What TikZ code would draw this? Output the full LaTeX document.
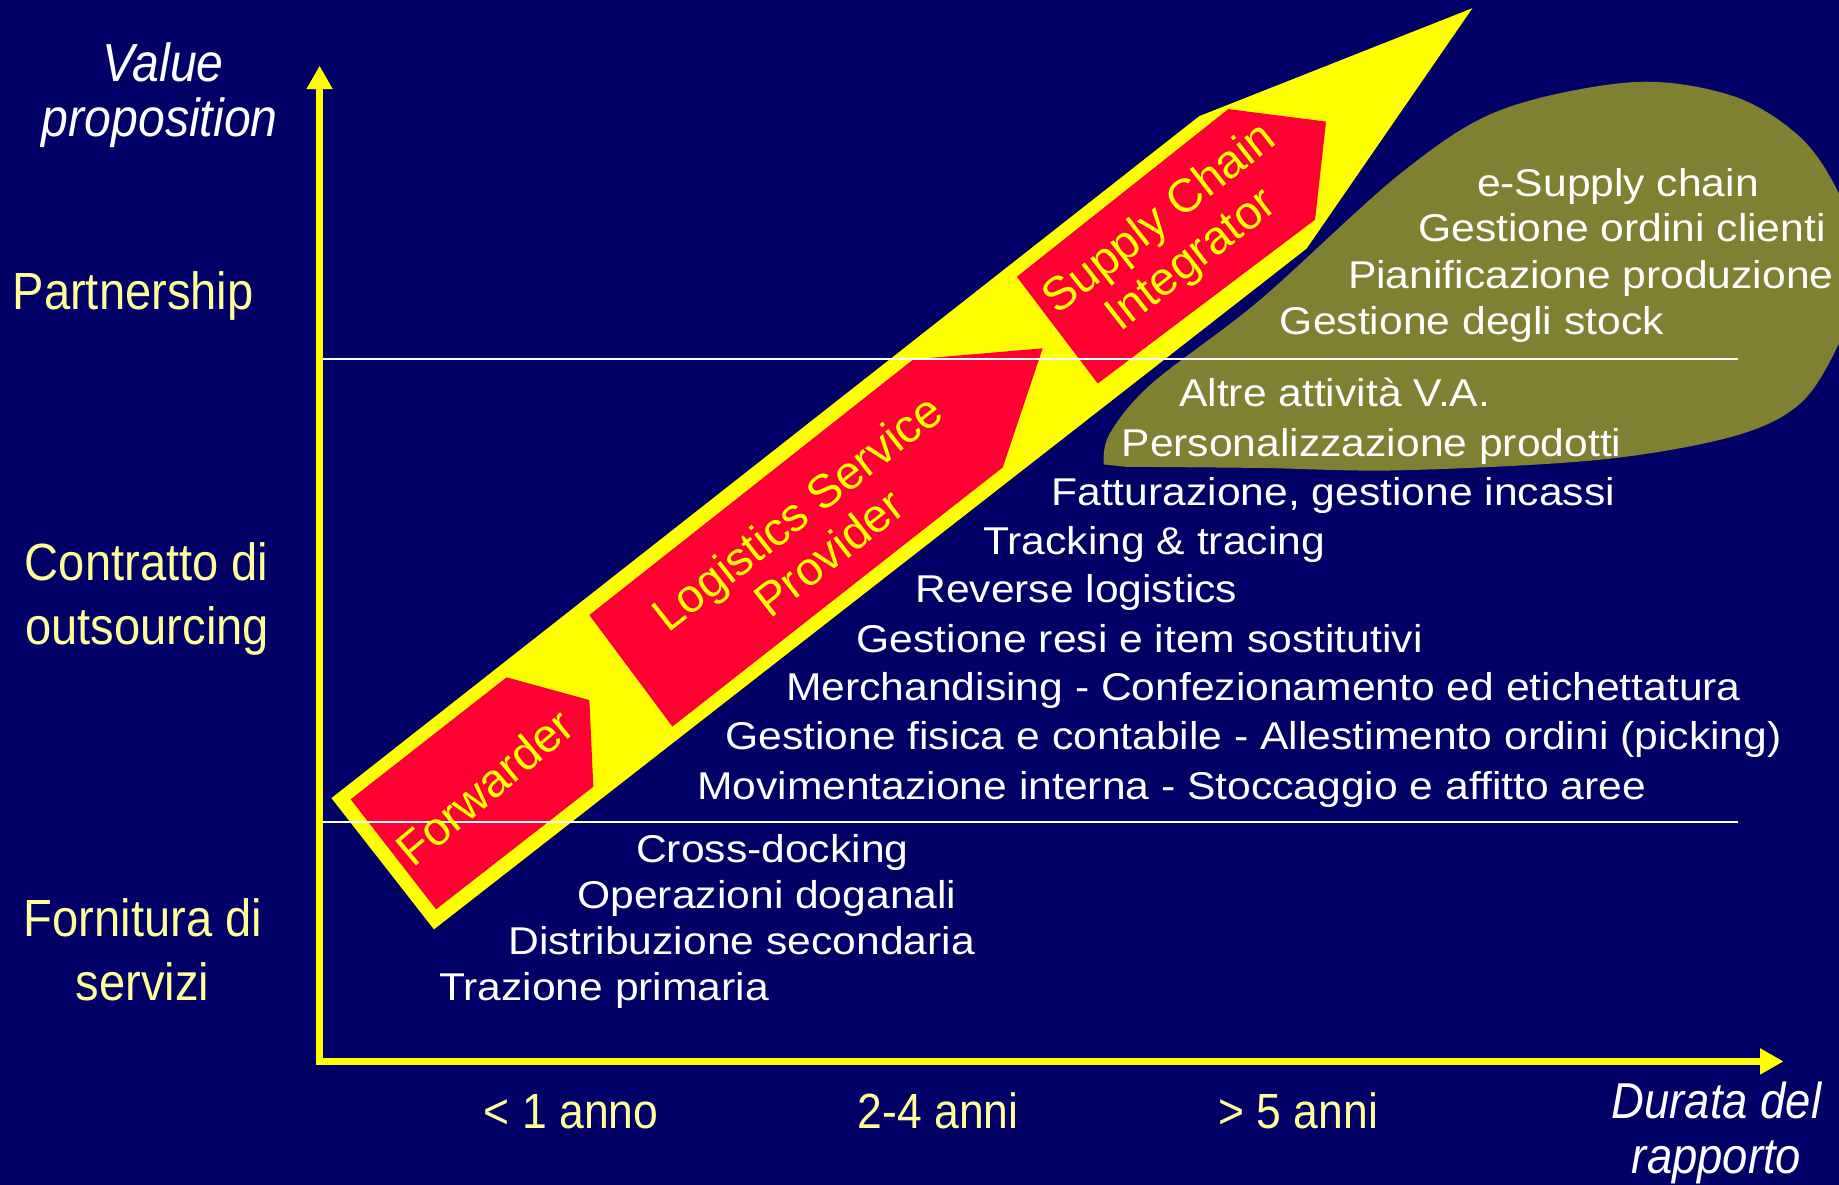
\documentclass[tikz,border=0pt]{standalone}
\usepackage{fontspec}
\setmainfont{Liberation Sans}
\newfontfamily\listfont[FakeStretch=1.1]{Liberation Sans}
\newfontfamily\lblfont[FakeStretch=0.9]{Liberation Sans}
\usepackage{xcolor}
\usepackage{tikz}
\usetikzlibrary{arrows.meta,positioning}

\definecolor{bgnavy}{RGB}{0,0,102}
\definecolor{arrowyel}{RGB}{255,255,0}
\definecolor{rolered}{RGB}{255,0,51}
\definecolor{blobolive}{RGB}{128,128,51}
\definecolor{lblyel}{RGB}{255,255,153}

\begin{document}
\begin{tikzpicture}[
    x=0.02cm, y=-0.02cm,% one unit = one pixel of the slide, y downwards
      item/.style = {anchor=base west, inner sep=0pt, text=white,
                     font=\listfont\fontsize{18.8}{22}\selectfont},% activities
     level/.style = {anchor=base, inner sep=0pt, text=lblyel,
                     font=\lblfont\fontsize{25.4}{30}\selectfont},% left labels
      span/.style = {anchor=base, inner sep=0pt, text=lblyel,
                     font=\lblfont\fontsize{24}{28}\selectfont},% duration ticks
     title/.style = {anchor=base, inner sep=0pt, text=white,
                     font=\lblfont\itshape\fontsize{26}{30}\selectfont},% axis titles
      role/.style = {align=center, inner sep=0pt, text=arrowyel,
                     font=\fontsize{22.8}{25}\selectfont},% labels in red boxes
      axis/.style = {draw=arrowyel, line width=3.4pt, line join=miter,
                     {Triangle[length=0.4cm,width=0.42cm]}-{Triangle[length=0.4cm,width=0.42cm]}},
   divider/.style = {draw=white, line width=1pt}
    ]
    % background
    \fill[bgnavy] (0,0) rectangle (1568,1010);
    \clip (0,0) rectangle (1568,1010);

    % olive cloud
    \fill[blobolive] plot[smooth, tension=0.55] coordinates {(941,396) (946,370) (982,327)
        (1074,256) (1194,148) (1279,94) (1393,70) (1478,82) (1535,117) (1568,165)
        (1592,230) (1568,293) (1535,344) (1478,372) (1364,392) (1194,401) (1074,399)
        (960,398)} -- cycle;

    % big yellow arrow
    \fill[arrowyel] (282.6,680.5) -- (370,792.4) -- (1114,212) -- (1255.4,7)
        -- (1022.6,99) -- cycle;

    % red boxes
    \fill[rolered] (299,681.5) -- (371.8,775.3) -- (505.9,670.8) -- (502.5,596.9)
        -- (432,577.5) -- cycle;
    \fill[rolered] (502.5,524.4) -- (573.3,619.5) -- (855,398.5) -- (889,297)
        -- (778.8,306.4) -- cycle;
    \fill[rolered] (867,236) -- (936,327) -- (1121.3,187.3) -- (1130.6,103.7)
        -- (1047.3,93) -- cycle;

    % level dividers
    \coordinate (d1a) at (275,306);
    \coordinate (d1b) at (1482,306);
    \coordinate (d2a) at (275,700.5);
    \coordinate (d2b) at (1482,700.5);
    \draw[divider] (d1a) -- (d1b);
    \draw[divider] (d2a) -- (d2b);

    % axes
    \coordinate (ytop) at (272.5,56);
    \coordinate (orig) at (272.5,905);
    \coordinate (xend) at (1520.7,905);
    \draw[axis] (ytop) -- (orig) -- (xend);

    % role labels
    \node (fwd) [role, rotate=40] at (413,671) {Forwarder};
    \node (lsp) [role, rotate=38] at (693,454) {Logistics Service\\Provider};
    \node (sci) [role, rotate=38] at (1003,205) {Supply Chain\\Integrator};

    % axis titles
    \node (vp1) [title] at (139,69.6) {Value};
    \node (vp2) [title] at (136.2,116.5) {proposition};
    \node (dr1) [title, font=\lblfont\itshape\fontsize{24.5}{28}\selectfont] at (1463.6,953.6) {Durata del};
    \node (dr2) [title, font=\lblfont\itshape\fontsize{24.5}{28}\selectfont] at (1463.6,1000.5) {rapporto};

    % value levels
    \node (lv1) [level] at (113.5,263.7) {Partnership};
    \node (lv2a) [level] at (125,495) {Contratto di};
    \node (lv2b) [level] at (125.5,549.7) {outsourcing};
    \node (lv3a) [level] at (122,798.3) {Fornitura di};
    \node (lv3b) [level] at (121.5,853.2) {servizi};

    % durations
    \node (t1) [span] at (487,962) {< 1 anno};
    \node (t2) [span] at (800,962) {2-4 anni};
    \node (t3) [span] at (1107,962) {> 5 anni};

    % services
    \node (s1) [item] at (374,853) {Trazione primaria};
    \node (s2) [item] at (433,814) {Distribuzione secondaria};
    \node (s3) [item] at (492,775) {Operazioni doganali};
    \node (s4) [item] at (542,735) {Cross-docking};

    % outsourcing
    \node (o1) [item] at (594,681.5) {Movimentazione interna - Stoccaggio e affitto aree};
    \node (o2) [item] at (618,639) {Gestione fisica e contabile - Allestimento ordini (picking)};
    \node (o3) [item] at (670,597) {Merchandising - Confezionamento ed etichettatura};
    \node (o4) [item] at (730,556) {Gestione resi e item sostitutivi};
    \node (o5) [item] at (780,514) {Reverse logistics};
    \node (o6) [item] at (838,473) {Tracking \& tracing};
    \node (o7) [item] at (896,431) {Fatturazione, gestione incassi};
    \node (o8) [item] at (956,389) {Personalizzazione prodotti};
    \node (o9) [item] at (1005,346.5) {Altre attività V.A.};

    % partnership
    \node (p1) [item] at (1091,285) {Gestione degli stock};
    \node (p2) [item] at (1149,246) {Pianificazione produzione};
    \node (p3) [item] at (1209,206) {Gestione ordini clienti};
    \node (p4) [item] at (1259,167.5) {e-Supply chain};
\end{tikzpicture}
\end{document}
